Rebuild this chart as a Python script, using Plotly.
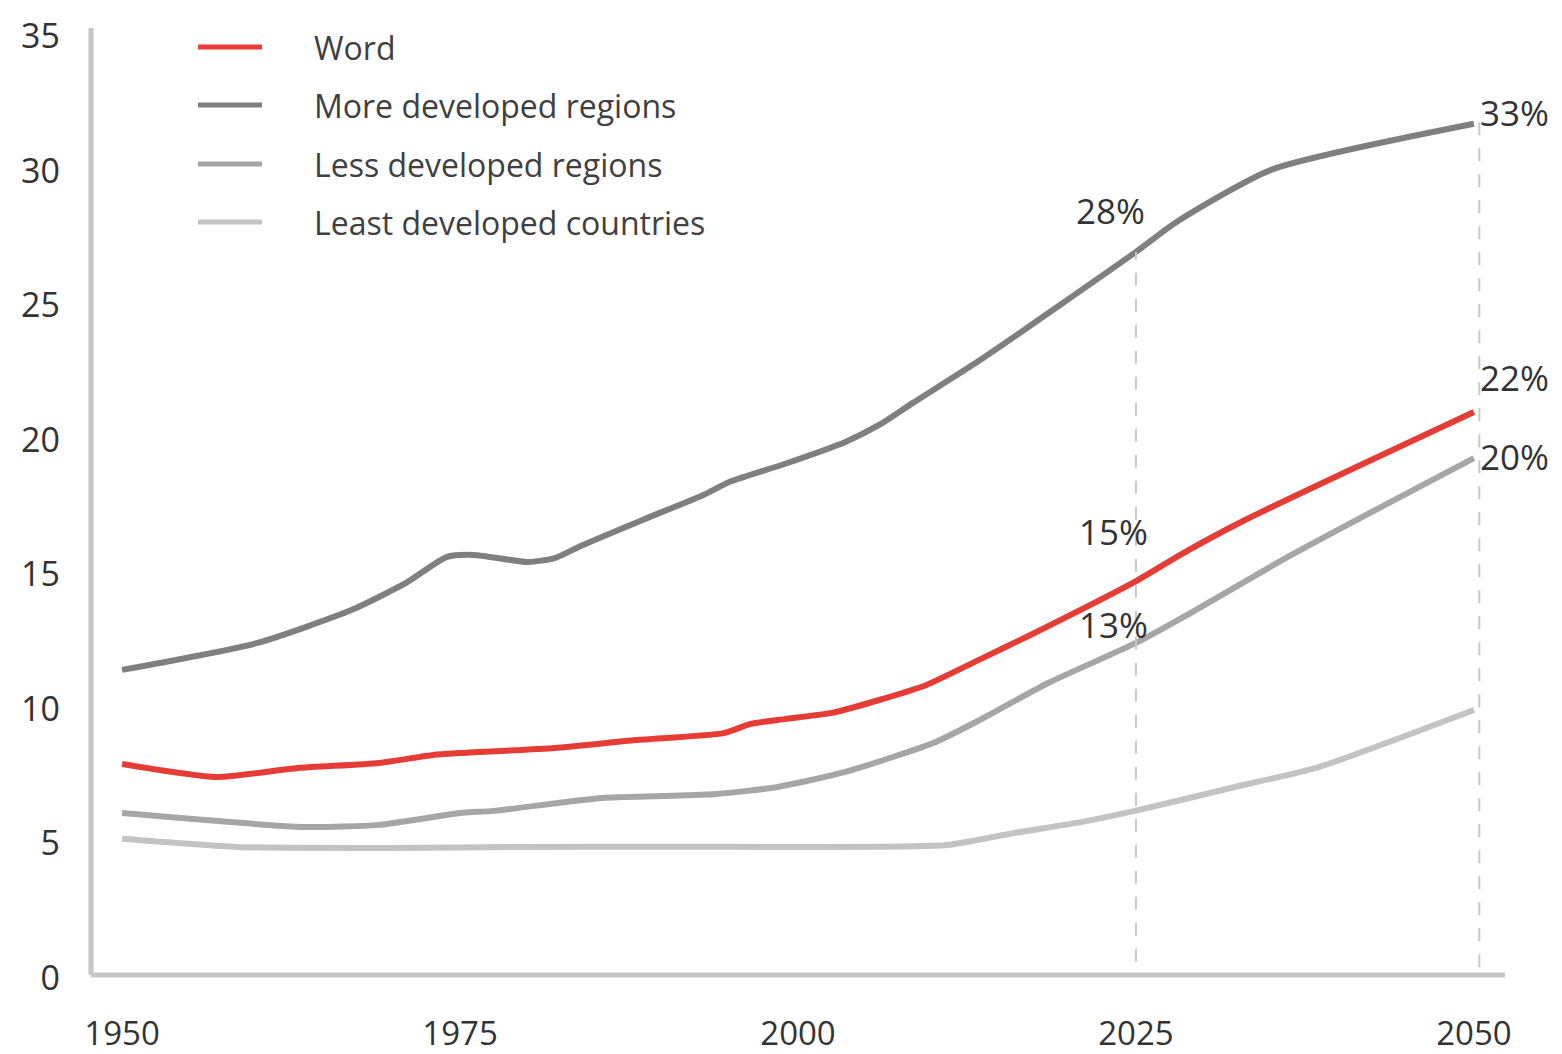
import plotly.graph_objects as go

# ---------------- data ----------------
world_years = [1950, 1957, 1963, 1969, 1973, 1975, 1982, 1988, 1994.5, 1996.5, 1999, 2002.5,
               2006, 2009.5, 2013.5, 2017, 2025, 2028.5, 2033, 2050]
world_vals = [7.95, 7.47, 7.80, 7.99, 8.29, 8.36, 8.55, 8.84, 9.10, 9.44, 9.62, 9.85,
              10.33, 10.89, 11.85, 12.70, 14.75, 15.79, 17.00, 21.03]

more_years = [1950, 1960, 1967, 1971, 1974, 1976, 1980, 1982, 1984, 1988.5, 1993, 1995, 1999,
              2003.5, 2006, 2008.5, 2013.5, 2025, 2028, 2035, 2050]
more_vals = [11.45, 12.45, 13.68, 14.68, 15.64, 15.72, 15.46, 15.60, 16.07, 17.02, 17.95, 18.45, 19.10,
             19.92, 20.55, 21.37, 22.97, 26.98, 28.09, 30.03, 31.74]

less_years = [1950, 1963.5, 1969, 1975, 1977.5, 1985.5, 1990, 1994, 1998.5, 2003.5, 2010, 2013.5,
              2018.5, 2025, 2028.5, 2036.5, 2050]
less_vals = [6.13, 5.61, 5.69, 6.13, 6.21, 6.69, 6.76, 6.84, 7.10, 7.66, 8.73, 9.60,
             10.96, 12.45, 13.41, 15.72, 19.32]

least_years = [1950, 1958.5, 1970, 1980, 1990, 2000, 2011, 2016, 2021, 2025, 2032, 2038.5, 2050]
least_vals = [5.17, 4.87, 4.83, 4.87, 4.88, 4.87, 4.94, 5.39, 5.80, 6.22, 7.06, 7.84, 9.96]

series_names = ["Word", "More developed regions", "Less developed regions", "Least developed countries"]
series_colors = ["#e53d36", "#7f7f7f", "#a6a6a6", "#c3c3c3"]

x_ticks = [1950, 1975, 2000, 2025, 2050]
y_ticks = [0, 5, 10, 15, 20, 25, 30, 35]

marker_years = [2025, 2050]
labels_2025 = ["28%", "15%", "13%"]
labels_2050 = ["33%", "22%", "20%"]

# ---------------- layout helpers ----------------
# the page body has an 8px margin, so the figure is a little smaller and offset
OFF = 8
W, H = 1554, 1046
L, R, T, B = 83, 57, 20, 76
X_RANGE = [1947.7, 2052.3]
Y_RANGE = [0, 35.3]
FONT = "Open Sans"


def px_x(px):
    return (px - OFF - L) / (W - L - R)


def px_y(py):
    return (H - B - (py - OFF)) / (H - T - B)


fig = go.Figure()

all_series = [
    (world_years, world_vals),
    (more_years, more_vals),
    (less_years, less_vals),
    (least_years, least_vals),
]
# draw lighter lines first so the red one is on top
for idx in [3, 2, 1, 0]:
    xs, ys = all_series[idx]
    fig.add_trace(go.Scatter(
        x=xs, y=ys, mode="lines", name=series_names[idx],
        line=dict(color=series_colors[idx], width=6, shape="spline", smoothing=0.6),
        showlegend=False, hoverinfo="x+y",
    ))

shapes = []
# axis lines
shapes.append(dict(type="line", xref="paper", yref="paper", x0=0, x1=0, y0=px_y(975), y1=1,
                   line=dict(color="#c6c6c6", width=5)))
shapes.append(dict(type="line", xref="paper", yref="paper", x0=0, x1=px_x(1505), y0=px_y(975), y1=px_y(975),
                   line=dict(color="#c6c6c6", width=5)))

# dashed reference lines
top_2025 = more_vals[more_years.index(2025)]
top_2050 = more_vals[more_years.index(2050)]
shapes.append(dict(type="line", xref="x", yref="y", x0=marker_years[0], x1=marker_years[0],
                   y0=0.6, y1=top_2025, line=dict(color="#c8c8c8", width=2, dash="13px,13px")))
shapes.append(dict(type="line", xref="x", yref="y", x0=marker_years[1] + 0.4, x1=marker_years[1] + 0.4,
                   y0=0.4, y1=top_2050 + 0.2, line=dict(color="#c8c8c8", width=2, dash="13px,13px")))

annotations = []
# manual legend
legend_rows = [47, 105, 164, 222]
for i, name in enumerate(series_names):
    py = legend_rows[i]
    shapes.append(dict(type="line", xref="paper", yref="paper", x0=px_x(198), x1=px_x(262),
                       y0=px_y(py), y1=px_y(py), line=dict(color=series_colors[i], width=5)))
    annotations.append(dict(xref="paper", yref="paper", x=px_x(312), y=px_y(py), text=name,
                            showarrow=False, xanchor="left", yanchor="middle",
                            font=dict(family=FONT, size=32, color="#404040")))

# value labels
pos_2025 = [(1110, 211), (1113, 531), (1113, 624)]
for txt, (px, py) in zip(labels_2025, pos_2025):
    annotations.append(dict(xref="paper", yref="paper", x=px_x(px), y=px_y(py), text=txt,
                            showarrow=False, xanchor="center", yanchor="middle",
                            font=dict(family=FONT, size=35, color="#333333")))
pos_2050 = [(1478, 112), (1478, 377), (1478, 456)]
for txt, (px, py) in zip(labels_2050, pos_2050):
    annotations.append(dict(xref="paper", yref="paper", x=px_x(px), y=px_y(py), text=txt,
                            showarrow=False, xanchor="left", yanchor="middle",
                            font=dict(family=FONT, size=35, color="#333333")))

fig.update_layout(
    width=W, height=H,
    margin=dict(l=L, r=R, t=T, b=B, pad=0, autoexpand=False),
    paper_bgcolor="white", plot_bgcolor="white",
    shapes=shapes, annotations=annotations,
    showlegend=False,
    xaxis=dict(range=X_RANGE, tickvals=x_ticks, ticktext=[str(v) for v in x_ticks],
               showgrid=False, zeroline=False, showline=False, ticks="",
               automargin=False, ticklabelstandoff=33,
               tickfont=dict(family=FONT, size=33, color="#333333")),
    yaxis=dict(range=Y_RANGE, tickvals=y_ticks, ticktext=[str(v) for v in y_ticks],
               showgrid=False, zeroline=False, showline=False, ticks="",
               automargin=False, ticklabelstandoff=30,
               tickfont=dict(family=FONT, size=34, color="#333333")),
)

fig.write_html("out.html")
